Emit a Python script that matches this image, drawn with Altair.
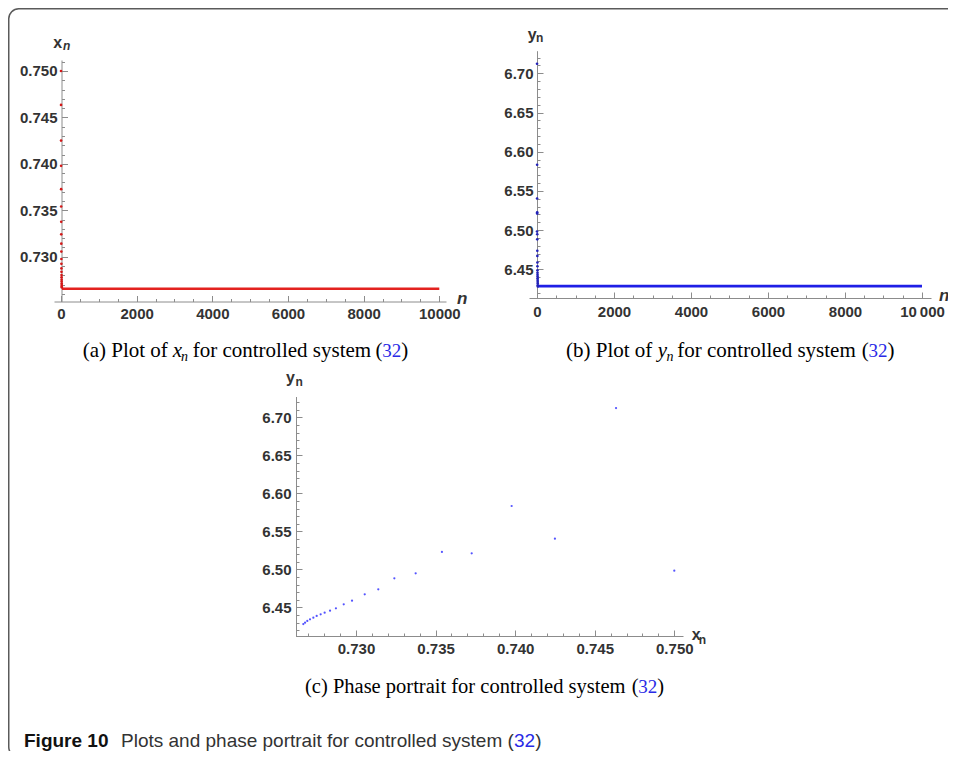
import altair as alt
import pandas as pd

# ---------------- data ----------------
x_seq = [0.75000, 0.74634, 0.74250, 0.73978, 0.73727, 0.73540, 0.73375, 0.73241,
         0.73140, 0.73055, 0.72975, 0.72923, 0.72874, 0.72837, 0.72803, 0.72778,
         0.72753, 0.72732, 0.72711, 0.72694, 0.72680, 0.72669]
y_seq = [6.4982, 6.7122, 6.5403, 6.5833, 6.5211, 6.5228, 6.4947, 6.4882,
         6.4737, 6.4671, 6.4587, 6.4539, 6.4487, 6.4455, 6.4429, 6.4408,
         6.4386, 6.4363, 6.4342, 6.4320, 6.4297, 6.4280]
n_seq = list(range(len(x_seq)))
n_eq = [25, 10000]
x_eq = [0.72655, 0.72655]
y_eq = [6.4286, 6.4286]

n_major = [0, 2000, 4000, 6000, 8000, 10000]
n_minor = [500, 1000, 1500, 2500, 3000, 3500, 4500, 5000, 5500, 6500, 7000, 7500,
           8500, 9000, 9500]
xv_major = [0.730, 0.735, 0.740, 0.745, 0.750]
xv_minor_a = [0.726, 0.727, 0.728, 0.729, 0.731, 0.732, 0.733, 0.734, 0.736, 0.737,
              0.738, 0.739, 0.741, 0.742, 0.743, 0.744, 0.746, 0.747, 0.748, 0.749, 0.751]
xv_minor_c = [v for v in xv_minor_a if 0.7265 < v < 0.7505]
yv_major = [6.45, 6.50, 6.55, 6.60, 6.65, 6.70]
yv_minor = [6.42, 6.43, 6.44, 6.46, 6.47, 6.48, 6.49, 6.51, 6.52, 6.53, 6.54, 6.56,
            6.57, 6.58, 6.59, 6.61, 6.62, 6.63, 6.64, 6.66, 6.67, 6.68, 6.69, 6.71, 6.72]

df_a = pd.DataFrame({"n": n_seq, "v": x_seq})
df_a_eq = pd.DataFrame({"n": n_eq, "v": x_eq})
df_b = pd.DataFrame({"n": n_seq, "v": y_seq})
df_b_eq = pd.DataFrame({"n": n_eq, "v": y_eq})
df_c = pd.DataFrame({"x": x_seq, "y": y_seq})
one = pd.DataFrame({"k": [0]})

# ---------------- layout / style ----------------
OFF = 8
W, H = 940, 743
AXC = "#8c8c8c"
LABC = "#333333"
TMAJ, TMIN = 6, 3
SERIF = "Liberation Serif"
SANS = "Liberation Sans"
BLUE_REF = "#2a2ae6"

PANELS = {
    "a": dict(xdom=[-185, 10177], xrng=[54, 446], ydom=[0.725175, 0.75118], yrng=[301.5, 60],
              ax=61.5, ay=301.5, xmaj=n_major, xmin=n_minor, ymaj=xv_major, ymin=xv_minor_a,
              xfmt="d", yfmt=".3f", xexpr=None, padx=5, pady=4.5),
    "b": dict(xdom=[-208, 10234], xrng=[529, 931], ydom=[6.41339, 6.72883], yrng=[298, 50.7],
              ax=537, ay=298, xmaj=n_major, xmin=n_minor, ymaj=yv_major, ymin=yv_minor,
              xfmt="d", yfmt=".2f",
              xexpr="datum.value == 10000 ? '10\u2009000' : datum.label", padx=6, pady=4),
    "c": dict(xdom=[0.726199, 0.750547], xrng=[295.5, 683], ydom=[6.41224, 6.72737], yrng=[636, 396.5],
              ax=296, ay=636, xmaj=xv_major, xmin=xv_minor_c, ymaj=yv_major, ymin=yv_minor,
              xfmt=".3f", yfmt=".2f", xexpr=None, padx=5.5, pady=5),
}


def sc(dom, rng):
    return alt.Scale(domain=dom, range=[r - OFF for r in rng], nice=False, zero=False)


def off_left(px):
    return -(px - OFF)


def off_bottom(py):
    return (py - OFF) - H


BASE_AX = dict(grid=False, title=None, labelFlush=False, labelOverlap=False,
               domainColor=AXC, tickColor=AXC, domainWidth=1, tickWidth=1,
               labelFont=SANS, labelFontSize=15, labelFontWeight="bold", labelColor=LABC)


def carriers(df, xf, yf, P):
    xs, ys = sc(P["xdom"], P["xrng"]), sc(P["ydom"], P["yrng"])
    out = []
    # axis lines
    out.append(alt.Chart(df).mark_point(opacity=0).encode(
        x=alt.X(f"{xf}:Q", scale=xs, axis=alt.Axis(orient="bottom", offset=off_bottom(P["ay"]),
                                                   domain=True, ticks=False, labels=False, **BASE_AX)),
        y=alt.Y(f"{yf}:Q", scale=ys, axis=alt.Axis(orient="left", offset=off_left(P["ax"]),
                                                   domain=True, ticks=False, labels=False, **BASE_AX)),
    ))
    # minor ticks (inward)
    out.append(alt.Chart(df).mark_point(opacity=0).encode(
        x=alt.X(f"{xf}:Q", scale=xs, axis=alt.Axis(orient="bottom", offset=off_bottom(P["ay"] - TMIN),
                                                   domain=False, ticks=True, tickSize=TMIN, labels=False,
                                                   values=P["xmin"], **BASE_AX)),
        y=alt.Y(f"{yf}:Q", scale=ys, axis=alt.Axis(orient="left", offset=off_left(P["ax"] + TMIN),
                                                   domain=False, ticks=True, tickSize=TMIN, labels=False,
                                                   values=P["ymin"], **BASE_AX)),
    ))
    # major ticks (inward) + labels
    xkw = dict(orient="bottom", offset=off_bottom(P["ay"] - TMAJ), domain=False, ticks=True,
               tickSize=TMAJ, labels=True, values=P["xmaj"], format=P["xfmt"], labelPadding=P["padx"])
    if P["xexpr"]:
        xkw["labelExpr"] = P["xexpr"]
    out.append(alt.Chart(df).mark_point(opacity=0).encode(
        x=alt.X(f"{xf}:Q", scale=xs, axis=alt.Axis(**xkw, **BASE_AX)),
        y=alt.Y(f"{yf}:Q", scale=ys, axis=alt.Axis(orient="left", offset=off_left(P["ax"] + TMAJ),
                                                   domain=False, ticks=True, tickSize=TMAJ, labels=True,
                                                   values=P["ymaj"], format=P["yfmt"],
                                                   labelPadding=P["pady"], **BASE_AX)),
    ))
    return out


def txt(s, x, y, size, font=SANS, weight="normal", style="normal", color="#000000"):
    return alt.Chart(one).mark_text(text=s, font=font, fontSize=size, fontWeight=weight,
                                    fontStyle=style, color=color, align="left",
                                    baseline="alphabetic").encode(
        x=alt.value(x - OFF), y=alt.value(y - OFF))


layers = []

# frame
layers.append(alt.Chart(one).mark_rect(fill="#ffffff", fillOpacity=0, stroke="#5a5a5a",
                                       strokeWidth=1.5, cornerRadius=10).encode(
    x=alt.value(0.75), x2=alt.value(1100), y=alt.value(0.75), y2=alt.value(749)))

# panel a
PA = PANELS["a"]
layers += carriers(df_a, "n", "v", PA)
layers.append(alt.Chart(df_a_eq).mark_line(color="#e3221f", strokeWidth=2.6).encode(
    x=alt.X("n:Q", scale=sc(PA["xdom"], PA["xrng"]), axis=None),
    y=alt.Y("v:Q", scale=sc(PA["ydom"], PA["yrng"]), axis=None)))
layers.append(alt.Chart(df_a).mark_circle(color="#d41818", size=7, opacity=1).encode(
    x=alt.X("n:Q", scale=sc(PA["xdom"], PA["xrng"]), axis=None),
    y=alt.Y("v:Q", scale=sc(PA["ydom"], PA["yrng"]), axis=None)))

# panel b
PB = PANELS["b"]
layers += carriers(df_b, "n", "v", PB)
layers.append(alt.Chart(df_b_eq).mark_line(color="#1f1fe6", strokeWidth=2.6).encode(
    x=alt.X("n:Q", scale=sc(PB["xdom"], PB["xrng"]), axis=None),
    y=alt.Y("v:Q", scale=sc(PB["ydom"], PB["yrng"]), axis=None)))
layers.append(alt.Chart(df_b).mark_circle(color="#2222b8", size=7, opacity=1).encode(
    x=alt.X("n:Q", scale=sc(PB["xdom"], PB["xrng"]), axis=None),
    y=alt.Y("v:Q", scale=sc(PB["ydom"], PB["yrng"]), axis=None)))

# panel c
PC = PANELS["c"]
layers += carriers(df_c, "x", "y", PC)
layers.append(alt.Chart(df_c).mark_circle(color="#4040ff", size=5, opacity=0.9).encode(
    x=alt.X("x:Q", scale=sc(PC["xdom"], PC["xrng"]), axis=None),
    y=alt.Y("y:Q", scale=sc(PC["ydom"], PC["yrng"]), axis=None)))

# axis titles
AT = "#333333"
layers += [
    txt("x", 53.3, 47.7, 16, weight="bold", color=AT),
    txt("n", 63.0, 49.5, 12, weight="bold", style="italic", color=AT),
    txt("n", 457, 304, 17, weight="bold", style="italic", color=AT),
    txt("y", 527.7, 39.5, 16, weight="bold", color=AT),
    txt("n", 536.0, 41.5, 12, weight="bold", color=AT),
    txt("n", 939, 301, 17, weight="bold", style="italic", color=AT),
    txt("y", 286, 383, 16, weight="bold", color=AT),
    txt("n", 295.5, 386, 12, weight="bold", color=AT),
    txt("x", 691.7, 640, 16, weight="bold", color=AT),
    txt("n", 698.8, 644, 12, weight="bold", color=AT),
]

# captions
CS = 21
CSC = 20.5
CB = 357.3
layers += [
    txt("(a) Plot of", 82.7, CB, CS, font=SERIF),
    txt("x", 172.7, CB, CS, font=SERIF, style="italic"),
    txt("n", 181.0, CB + 4, 14, font=SERIF, style="italic"),
    txt("for controlled system", 192.7, CB, CS, font=SERIF),
    txt("(", 375.5, CB, CS, font=SERIF),
    txt("32", 382.3, CB, 19, font=SERIF, color=BLUE_REF),
    txt(")", 401.3, CB, CS, font=SERIF),

    txt("(b) Plot of", 566.0, CB, CS, font=SERIF),
    txt("y", 657.7, CB, CS, font=SERIF, style="italic"),
    txt("n", 666.5, CB + 4, 14, font=SERIF, style="italic"),
    txt("for controlled system", 677.3, CB, CS, font=SERIF),
    txt("(", 861.7, CB, CS, font=SERIF),
    txt("32", 868.5, CB, 19, font=SERIF, color=BLUE_REF),
    txt(")", 887.5, CB, CS, font=SERIF),

    txt("(c) Phase portrait for controlled system", 305.0, 692.5, CSC, font=SERIF),
    txt("(", 631.7, 692.5, CSC, font=SERIF),
    txt("32", 638.2, 692.5, 19, font=SERIF, color=BLUE_REF),
    txt(")", 657.2, 692.5, CSC, font=SERIF),

    txt("Figure 10", 24, 747, 19, weight="bold", color="#111111"),
    txt("Plots and phase portrait for controlled system (", 121, 747, 19, color="#333333"),
    txt("32", 514, 747, 19, color=BLUE_REF),
    txt(")", 535.2, 747, 19, color="#333333"),
]

chart = alt.layer(*layers).resolve_scale(x="independent", y="independent").resolve_axis(
    x="independent", y="independent").properties(
    width=W, height=H, padding=0, autosize=alt.AutoSizeParams(type="none")
).configure_view(stroke=None)

chart.save("out.html", embed_options={"renderer": "svg", "actions": False})
